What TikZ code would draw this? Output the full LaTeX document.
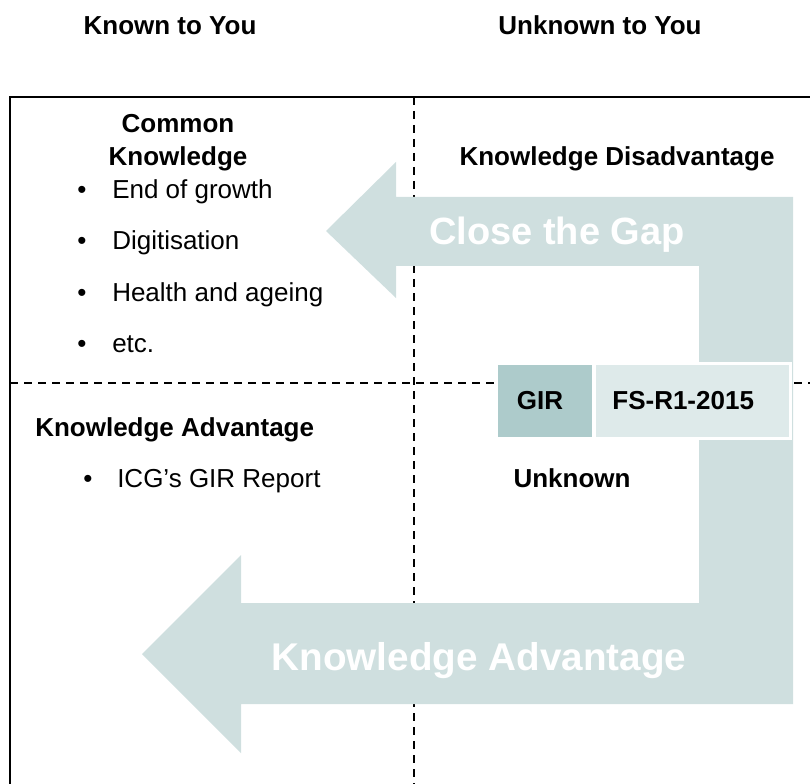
\documentclass[tikz,border=0pt]{standalone}
\usepackage{fontspec}
\setmainfont{Liberation Sans}
\definecolor{gapfill}{RGB}{207,223,223}
\definecolor{girfill}{RGB}{173,203,203}
\definecolor{fsfill}{RGB}{222,234,234}
\begin{document}
\begin{tikzpicture}[x=0.75pt,y=-0.75pt,
    head/.style={font=\bfseries\fontsize{19.5}{24.75}\selectfont, inner sep=0pt},
    body/.style={font=\fontsize{19.5}{24.75}\selectfont, inner sep=0pt, anchor=base west},
    bigtext/.style={font=\bfseries\fontsize{#1}{34}\selectfont, text=white, inner sep=0pt, anchor=base},
    grid/.style={line width=1.5pt, dash pattern=on 6pt off 4.5pt},
    tagbox/.style={font=\bfseries\fontsize{19.5}{24.75}\selectfont, inner sep=0pt}]
        \useasboundingbox (0,0) rectangle (810,784);

        \coordinate (TL) at (10,97);
        \coordinate (TR) at (810,97);
        \coordinate (BL) at (10,784);
        \coordinate (VT) at (414,97);
        \coordinate (VB) at (414,784);
        \coordinate (HL) at (10,383);
        \coordinate (HR) at (810,383);

        \draw[line width=1.5pt] (BL) -- (TL) -- (TR);
        \draw[grid] (VT) -- (VB);
        \draw[grid] (HL) -- (HR);

        \fill[gapfill] (326,231) -- (396,162) -- (396,197) -- (793,197) -- (793,704)
            -- (241,704) -- (241,753) -- (142,654) -- (241,555) -- (241,603)
            -- (699,603) -- (699,266) -- (396,266) -- (396,298) -- cycle;

        \node[bigtext=28.5] (gap) at (557,245) {Close the Gap};
        \node[bigtext=29] (adv) at (479,670) {Knowledge Advantage};

        \node[tagbox, fill=girfill, minimum width=70.5pt, minimum height=54pt] (gir) at (545,401) {\hspace*{-7.5pt}GIR};
        \node[tagbox, fill=fsfill, draw=white, line width=2.25pt, minimum width=147pt, minimum height=56.25pt] (fs) at (692.5,401) {\hspace*{-14pt}FS-R1-2015};

        \node[head, anchor=base] (known) at (170,35) {Known to You};
        \node[head, anchor=base] (unknown) at (600,35) {Unknown to You};

        \node[head, anchor=base, align=center] (common) at (178,166) {Common\\Knowledge};
        \node[head, anchor=base] (disadv) at (617,166) {Knowledge Disadvantage};
        \node[head, anchor=base west] (kadv) at (35,436) {Knowledge Advantage};
        \node[head, anchor=base] (unk) at (572,487) {Unknown};

        \foreach \t [count=\i] in {End of growth, Digitisation, Health and ageing, etc.} {
            \node[body] (dot\i) at (77,{199+51*(\i-1)}) {•};
            \node[body] (item\i) at (112,{199+51*(\i-1)}) {\t};
        }
        \node[body] (dot5) at (83,487) {•};
        \node[body] (item5) at (117,487) {ICG’s GIR Report};
    \end{tikzpicture}
\end{document}
